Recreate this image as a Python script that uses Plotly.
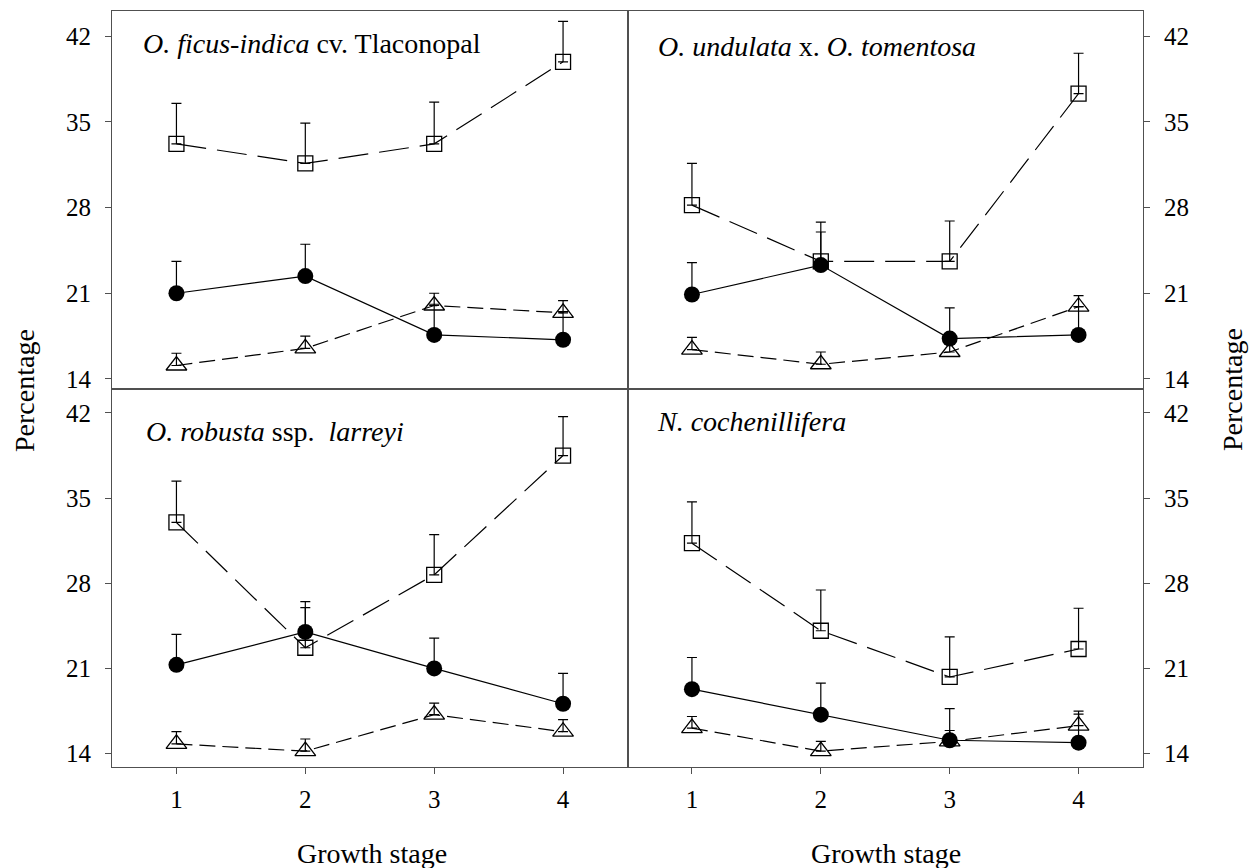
import plotly.graph_objects as go
from plotly.subplots import make_subplots

stages = [1, 2, 3, 4]
stage_labels = ["1", "2", "3", "4"]
y_ticks = [14, 21, 28, 35, 42]

titles = [
    "<i>O. ficus-indica</i> cv. Tlaconopal",
    "<i>O. undulata</i> x. <i>O. tomentosa</i>",
    "<i>O. robusta</i> ssp.  <i>larreyi</i>",
    "<i>N. cochenillifera</i>",
]

# Panel A: O. ficus-indica cv. Tlaconopal
a_sq = [33.2, 31.6, 33.2, 39.9]
a_sq_err = [3.3, 3.3, 3.4, 3.3]
a_ci = [21.0, 22.4, 17.6, 17.2]
a_ci_err = [2.6, 2.6, 2.5, 2.3]
a_tr = [15.1, 16.5, 20.0, 19.4]
a_tr_err = [1.0, 1.0, 1.0, 1.0]

# Panel B: O. undulata x O. tomentosa
b_sq = [28.2, 23.6, 23.6, 37.3]
b_sq_err = [3.4, 3.2, 3.3, 3.3]
b_ci = [20.9, 23.3, 17.3, 17.6]
b_ci_err = [2.6, 2.7, 2.5, 2.3]
b_tr = [16.4, 15.2, 16.2, 19.9]
b_tr_err = [1.0, 1.0, 0.9, 0.9]

# Panel C: O. robusta ssp. larreyi
c_sq = [33.0, 22.7, 28.7, 38.5]
c_sq_err = [3.4, 3.8, 3.3, 3.2]
c_ci = [21.3, 24.0, 21.0, 18.1]
c_ci_err = [2.5, 2.0, 2.5, 2.5]
c_tr = [14.8, 14.2, 17.2, 15.8]
c_tr_err = [1.0, 1.0, 0.95, 1.0]

# Panel D: N. cochenillifera
d_sq = [31.3, 24.1, 20.3, 22.6]
d_sq_err = [3.4, 3.35, 3.3, 3.35]
d_ci = [19.3, 17.2, 15.1, 14.9]
d_ci_err = [2.6, 2.6, 2.6, 2.6]
d_tr = [16.1, 14.2, 15.0, 16.3]
d_tr_err = [0.95, 0.8, 0.9, 0.95]

panels = [
    (1, 1, a_sq, a_sq_err, a_ci, a_ci_err, a_tr, a_tr_err),
    (1, 2, b_sq, b_sq_err, b_ci, b_ci_err, b_tr, b_tr_err),
    (2, 1, c_sq, c_sq_err, c_ci, c_ci_err, c_tr, c_tr_err),
    (2, 2, d_sq, d_sq_err, d_ci, d_ci_err, d_tr, d_tr_err),
]

FONT = "Liberation Serif"
INK = "black"
AX = "#505050"

fig = make_subplots(rows=2, cols=2, horizontal_spacing=0, vertical_spacing=0)


def err(vals):
    return dict(type="data", array=vals, arrayminus=[0] * len(vals), symmetric=False,
                color=INK, thickness=1.2, width=5)


for (r, c, sq, sqe, ci, cie, tr, tre) in panels:
    fig.add_trace(go.Scatter(x=stages, y=sq, mode="lines+markers",
                             line=dict(color=INK, width=1.2, dash="30px,11px"),
                             marker=dict(symbol="square-open", size=15, color=INK, line=dict(width=1.3)),
                             error_y=err(sqe), showlegend=False), row=r, col=c)
    fig.add_trace(go.Scatter(x=stages, y=tr, mode="lines+markers",
                             line=dict(color=INK, width=1.2, dash="16px,7px"),
                             marker=dict(symbol="triangle-up-open", size=18, color=INK, line=dict(width=1.3)),
                             error_y=err(tre), showlegend=False), row=r, col=c)
    fig.add_trace(go.Scatter(x=stages, y=ci, mode="lines+markers",
                             line=dict(color=INK, width=1.2),
                             marker=dict(symbol="circle", size=16, color=INK),
                             error_y=err(cie), showlegend=False), row=r, col=c)

yr_top = [13.18, 44.05]
yr_bot = [12.9, 43.97]

for r in (1, 2):
    for c in (1, 2):
        fig.update_xaxes(row=r, col=c, range=[0.5, 4.5], showline=True, mirror=True,
                         linecolor=AX, linewidth=1.2, showgrid=False, zeroline=False,
                         tickvals=stages, ticktext=stage_labels,
                         ticks="outside" if r == 2 else "", ticklen=6, tickcolor=AX,
                         showticklabels=(r == 2), ticklabelstandoff=4,
                         tickfont=dict(family=FONT, size=25, color=INK))
        fig.update_yaxes(row=r, col=c, range=yr_top if r == 1 else yr_bot,
                         showline=True, mirror=True, linecolor=AX, linewidth=1.2,
                         showgrid=False, zeroline=False, tickvals=y_ticks,
                         ticks="outside", ticklen=6, tickcolor=AX,
                         side="left" if c == 1 else "right", ticklabelstandoff=9,
                         tickfont=dict(family=FONT, size=25, color=INK))

# panel titles
title_pos = [(0.056, 0.915), (0.056, 0.906), (0.063, 0.887), (0.054, 0.913)]
axrefs = [("x", "y"), ("x2", "y2"), ("x3", "y3"), ("x4", "y4")]
for t, (px, py), (xr, yr) in zip(titles, title_pos, axrefs):
    fig.add_annotation(text=t, xref=xr + " domain", yref=yr + " domain", x=px, y=py,
                       xanchor="left", yanchor="middle", showarrow=False,
                       font=dict(family=FONT, size=28, color=INK))

# axis titles
for xp in (0.2517, 0.7504):
    fig.add_annotation(text="Growth stage", xref="paper", yref="paper", x=xp, y=-0.1138,
                       xanchor="center", yanchor="middle", showarrow=False,
                       font=dict(family=FONT, size=28, color=INK))
for xp in (-0.0844, 1.0873):
    fig.add_annotation(text="Percentage", xref="paper", yref="paper", x=xp, y=0.4987,
                       xanchor="center", yanchor="middle", textangle=-90, showarrow=False,
                       font=dict(family=FONT, size=28, color=INK))

fig.update_layout(width=1258, height=868, margin=dict(l=112, r=115, t=11, b=101),
                  plot_bgcolor="white", paper_bgcolor="white",
                  font=dict(family=FONT, color=INK))

fig.write_html("out.html")
